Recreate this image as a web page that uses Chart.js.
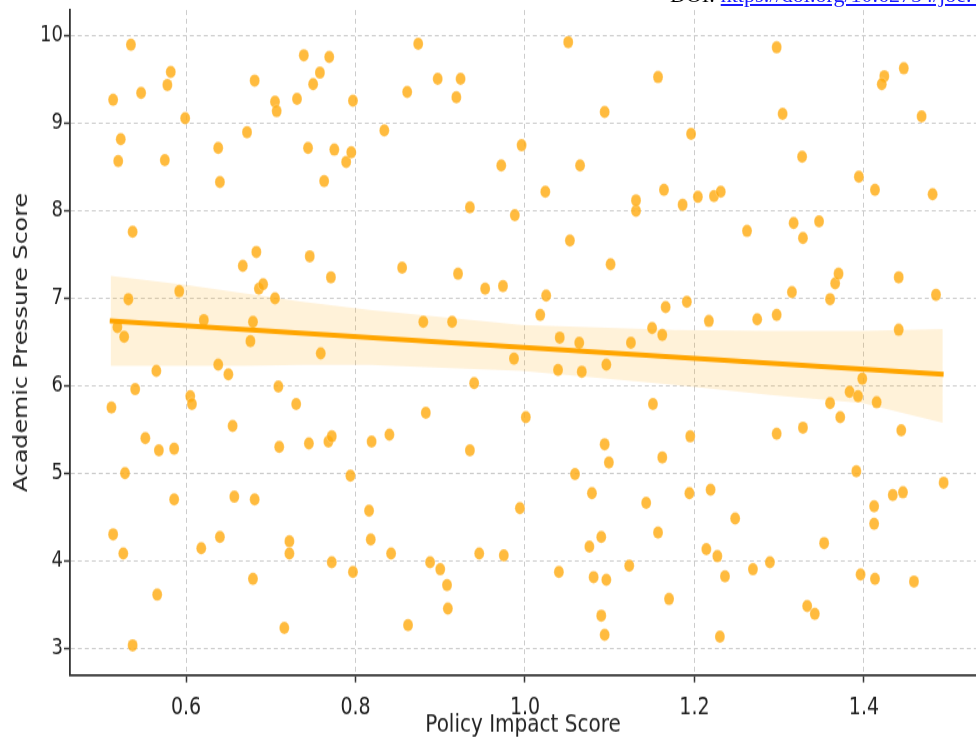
<!DOCTYPE html>
<html>
<head>
<meta charset="utf-8">
<script src="https://cdn.jsdelivr.net/npm/chart.js@4"></script>
<style>
  html, body { margin: 0; padding: 0; background: #ffffff; width: 976px; height: 738px; overflow: hidden; position: relative; }
  #wrap { position: absolute; left: 0; top: 0; width: 976px; height: 590px; transform-origin: 0 0; transform: scaleY(1.2508); }
  #doi { position: absolute; left: 670px; top: -16px; font-family: "Liberation Serif", "DejaVu Serif", serif; font-size: 22px; line-height: 22px; white-space: nowrap; color: #000; z-index: 2; }
  #doi a { color: #1a1aff; text-decoration: underline; }
</style>
</head>
<body>
<div id="doi">DOI: <a href="#">https://doi.org/10.62754/joe.v3i8.5012</a></div>
<div id="wrap"><canvas id="c" width="976" height="590"></canvas></div>
<script>
// ---- data ----
const policyImpact = [
  0.514,0.535,0.523,0.520,0.547,0.537,0.532,0.519,0.527,0.512,0.540,0.565,0.552,0.568,0.586,0.528,0.586,0.514,0.526,0.566,
  0.537,0.575,0.578,0.582,0.599,0.592,0.605,0.607,0.618,0.621,0.638,0.640,0.638,0.650,0.655,0.657,0.640,0.672,0.667,0.676,
  0.679,0.681,0.683,0.686,0.691,0.681,0.679,0.705,0.707,0.705,0.709,0.710,0.716,0.722,0.722,0.731,0.730,0.739,0.750,0.758,
  0.744,0.746,0.745,0.759,0.763,0.769,0.775,0.771,0.768,0.772,0.772,0.789,0.795,0.794,0.797,0.797,0.816,0.818,0.819,0.834,
  0.840,0.842,0.855,0.861,0.862,0.874,0.880,0.883,0.888,0.897,0.900,0.908,0.909,0.914,0.919,0.924,0.921,0.935,0.935,0.940,
  0.946,0.953,0.972,0.974,0.975,0.987,0.988,0.994,0.996,1.001,1.018,1.024,1.025,1.041,1.039,1.040,1.051,1.053,1.059,1.064,
  1.065,1.067,1.076,1.079,1.081,1.090,1.090,1.094,1.094,1.096,1.096,1.094,1.099,1.101,1.123,1.125,1.131,1.131,1.143,1.150,
  1.151,1.157,1.157,1.162,1.162,1.164,1.166,1.170,1.186,1.191,1.194,1.195,1.196,1.204,1.214,1.217,1.219,1.223,1.227,1.231,
  1.230,1.236,1.248,1.262,1.269,1.274,1.289,1.297,1.297,1.297,1.304,1.315,1.317,1.327,1.328,1.328,1.333,1.342,1.347,1.353,
  1.360,1.360,1.366,1.370,1.372,1.383,1.393,1.394,1.391,1.396,1.398,1.413,1.412,1.412,1.415,1.413,1.424,1.421,1.434,1.441,
  1.441,1.444,1.446,1.447,1.459,1.468,1.481,1.485,1.494
];
const academicPressure = [
  9.27,9.90,8.82,8.57,9.35,7.76,6.99,6.67,6.56,5.75,5.96,6.17,5.40,5.26,5.28,5.00,4.70,4.30,4.08,3.61,
  3.03,8.58,9.44,9.59,9.06,7.08,5.88,5.79,4.14,6.75,8.72,8.33,6.24,6.13,5.54,4.73,4.27,8.90,7.37,6.51,
  6.73,9.49,7.53,7.11,7.16,4.70,3.79,9.25,9.14,7.00,5.99,5.30,3.23,4.22,4.08,9.28,5.79,9.78,9.45,9.58,
  8.72,7.48,5.34,6.37,8.34,9.76,8.70,7.24,5.36,5.42,3.98,8.56,8.67,4.97,9.26,3.87,4.57,4.24,5.36,8.92,
  5.44,4.08,7.35,9.36,3.26,9.91,6.73,5.69,3.98,9.51,3.90,3.72,3.45,6.73,9.30,9.51,7.28,8.04,5.26,6.03,
  4.08,7.11,8.52,7.14,4.06,6.31,7.95,4.60,8.75,5.64,6.81,8.22,7.03,6.55,6.18,3.87,9.93,7.66,4.99,6.49,
  8.52,6.16,4.16,4.77,3.81,4.27,3.37,9.13,5.33,6.24,3.78,3.15,5.12,7.39,3.94,6.49,8.00,8.12,4.66,6.66,
  5.79,4.32,9.53,6.58,5.18,8.24,6.90,3.56,8.07,6.96,4.77,5.42,8.88,8.16,4.13,6.74,4.81,8.17,4.05,8.22,
  3.13,3.82,4.48,7.77,3.90,6.76,3.98,9.87,6.81,5.45,9.11,7.07,7.86,8.62,5.52,7.69,3.48,3.39,7.88,4.20,
  6.99,5.80,7.17,7.28,5.64,5.93,5.88,8.39,5.02,3.84,6.08,8.24,4.42,4.62,5.81,3.79,9.54,9.45,4.75,7.24,
  6.64,5.49,4.78,9.63,3.76,9.08,8.19,7.04,4.89
];
// regression fit line and confidence band
const fitX = [0.510, 1.494];
const fitY = [6.74, 6.13];
const bandX     = [0.511, 0.600, 0.667, 0.738, 0.817, 0.996, 1.177, 1.289, 1.398, 1.493];
const bandUpper = [7.255, 7.152, 7.061, 6.958, 6.866, 6.695, 6.637, 6.626, 6.626, 6.649];
const bandLower = [6.226, 6.226, 6.226, 6.237, 6.237, 6.168, 6.008, 5.894, 5.802, 5.574];
// ticks
const xTickValues = [0.6, 0.8, 1.0, 1.2, 1.4];
const xTickLabels = ['0.6', '0.8', '1.0', '1.2', '1.4'];
const yTickValues = [3, 4, 5, 6, 7, 8, 9, 10];
const yTickLabels = ['3', '4', '5', '6', '7', '8', '9', '10'];
const xTitle = 'Policy Impact Score';
const yTitle = 'Academic Pressure Score';

const pts = policyImpact.map((x, i) => ({ x: x, y: academicPressure[i] }));
const upperPts = bandX.map((x, i) => ({ x: x, y: bandUpper[i] }));
const lowerPts = bandX.map((x, i) => ({ x: x, y: bandLower[i] }));
const fitPts = fitX.map((x, i) => ({ x: x, y: fitY[i] }));

Chart.defaults.font.family = "'DejaVu Sans', sans-serif";
Chart.defaults.color = '#222';

new Chart(document.getElementById('c'), {
  type: 'scatter',
  data: {
    datasets: [
      { label: 'data', data: pts, order: 3,
        pointStyle: 'circle', pointRadius: 5, pointHoverRadius: 5,
        backgroundColor: 'rgba(255,172,20,0.82)', borderColor: 'rgba(255,255,255,0.5)', borderWidth: 0.5 },
      { label: 'upper', type: 'line', data: upperPts, order: 2, showLine: true,
        pointRadius: 0, borderWidth: 0, borderColor: 'rgba(0,0,0,0)', fill: false, tension: 0 },
      { label: 'lower', type: 'line', data: lowerPts, order: 2, showLine: true,
        pointRadius: 0, borderWidth: 0, borderColor: 'rgba(0,0,0,0)', fill: '-1',
        backgroundColor: 'rgba(255,165,0,0.15)', tension: 0 },
      { label: 'fit', type: 'line', data: fitPts, order: 1, showLine: true,
        pointRadius: 0, borderWidth: 4, borderColor: '#FFA500', fill: false }
    ]
  },
  options: {
    responsive: false,
    animation: false,
    devicePixelRatio: 1,
    events: [],
    layout: { autoPadding: false, padding: { top: 8, right: 0, left: 0, bottom: 0 } },
    plugins: { legend: { display: false }, tooltip: { enabled: false } },
    scales: {
      x: {
        type: 'linear', min: 0.4631, max: 1.5322,
        afterBuildTicks: s => { s.ticks = xTickValues.map(v => ({ value: v })); },
        afterFit: s => { s.height = 50.4; s.paddingLeft = 0; s.paddingRight = 0; },
        ticks: { callback: (v, i) => xTickLabels[i], font: { size: 19 }, padding: 9, color: '#222', maxRotation: 0 },
        grid: { color: '#cccccc', lineWidth: 1, tickLength: 6, tickColor: '#333', tickWidth: 1.5, tickBorderDash: [] },
        border: { display: true, color: '#333', width: 1.8, dash: [4, 3] },
        title: { display: true, text: xTitle, font: { size: 20 }, color: '#222', padding: { top: 0, bottom: -1.5 } }
      },
      y: {
        type: 'linear', min: 2.691, max: 10.297,
        afterBuildTicks: s => { s.ticks = yTickValues.map(v => ({ value: v })); },
        afterFit: s => { s.width = 70; s.paddingTop = 0; s.paddingBottom = 0; },
        ticks: { callback: (v, i) => yTickLabels[i], font: { size: 18 }, padding: 1, color: '#222' },
        grid: { color: '#cccccc', lineWidth: 1, tickLength: 6, tickColor: '#333', tickWidth: 1.5, tickBorderDash: [] },
        border: { display: true, color: '#333', width: 1.8, dash: [4, 3] },
        title: { display: true, text: yTitle, font: { size: 19 }, color: '#222', padding: { top: 11, bottom: 0 } }
      }
    }
  }
});
</script>
</body>
</html>
